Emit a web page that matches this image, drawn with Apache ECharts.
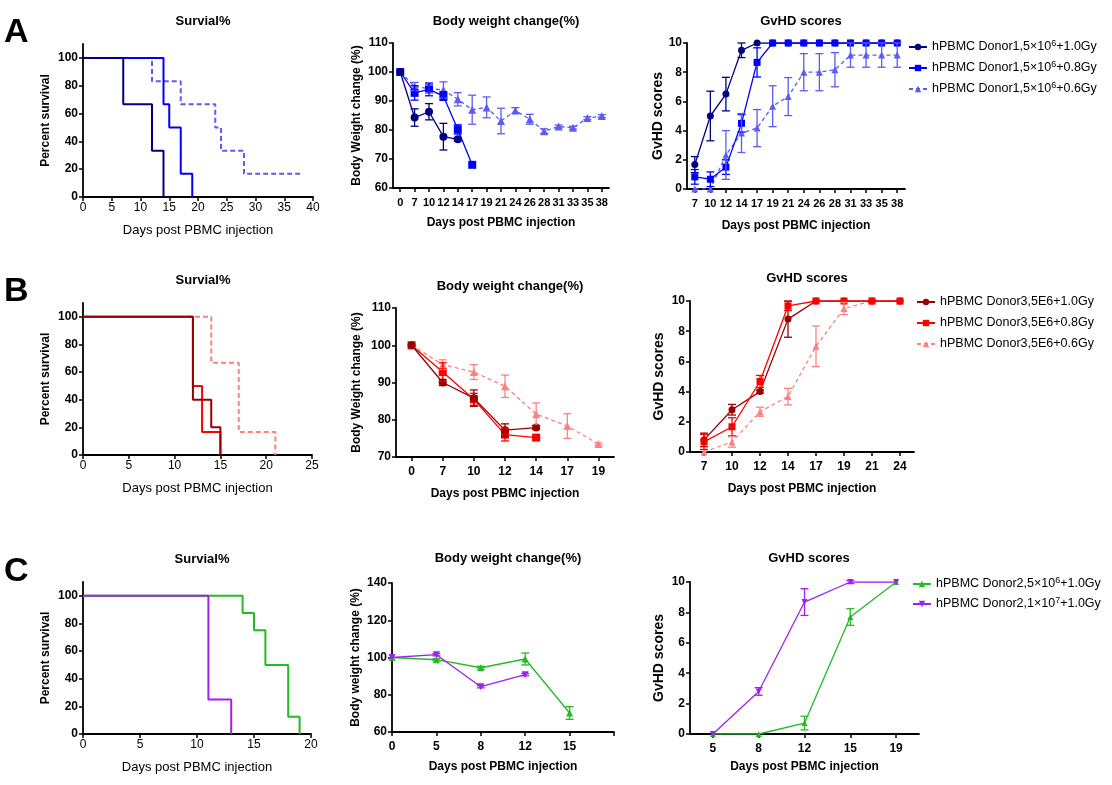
<!DOCTYPE html>
<html>
<head>
<meta charset="utf-8">
<script src="https://cdn.jsdelivr.net/npm/echarts@6.0.0/dist/echarts.min.js"></script>
<style>html,body{margin:0;padding:0;background:#fff}#main{width:1112px;height:785px}</style>
</head>
<body>
<div id="main"></div>
<script type="text/javascript">
    var myChart = echarts.init(document.getElementById('main'));

    // ===== Row A : Donor1 =====
    var namesA = ['hPBMC Donor1,5×10⁶+1.0Gy', 'hPBMC Donor1,5×10⁶+0.8Gy', 'hPBMC Donor1,5×10⁶+0.6Gy'];
    var survA_t1 = [0, 7, 12, 14],                 survA_p1 = [100, 66.7, 33.3, 0];
    var survA_t2 = [0, 14, 15, 17, 19],            survA_p2 = [100, 66.7, 50, 16.7, 0];
    var survA_t3 = [0, 12, 17, 23, 24, 28, 38],    survA_p3 = [100, 83.3, 66.7, 50, 33.3, 16.7, 16.7];

    var bwA_days = ['0', '7', '10', '12', '14', '17', '19', '21', '24', '26', '28', '31', '33', '35', '38'];
    var bwA_1 = [100, 84.3, 86.3, 77.7, 76.8];
    var bwA_1err = [0, 3.0, 2.8, 4.6, 0.6];
    var bwA_2 = [100, 92.8, 94.0, 91.7, 80.2, 68.0];
    var bwA_2err = [0, 2.5, 2.2, 1.5, 1.6, 0];
    var bwA_3 = [100, 95.0, 94.3, 93.8, 90.6, 87.0, 87.8, 83.1, 86.7, 83.7, 79.6, 81.2, 80.8, 84.1, 84.8];
    var bwA_3err = [0, 1.4, 1.4, 2.8, 2.3, 5.0, 3.6, 4.4, 1.0, 1.7, 0.8, 0.5, 0.5, 0.5, 0.5];

    var gvA_days = ['7', '10', '12', '14', '17', '19', '21', '24', '26', '28', '31', '33', '35', '38'];
    var gvA_1 = [1.67, 5.0, 6.5, 9.5, 10, 10, 10, 10, 10, 10, 10, 10, 10, 10];
    var gvA_1err = [0.55, 1.7, 1.15, 0.5, 0, 0, 0, 0, 0, 0, 0, 0, 0, 0];
    var gvA_2 = [0.83, 0.67, 1.5, 4.5, 8.67, 10, 10, 10, 10, 10, 10, 10, 10, 10];
    var gvA_2err = [0.5, 0.5, 0.5, 0.6, 1.0, 0, 0, 0, 0, 0, 0, 0, 0, 0];
    var gvA_3 = [0, 0, 2.33, 3.83, 4.17, 5.67, 6.33, 8.0, 8.0, 8.17, 9.17, 9.17, 9.17, 9.17];
    var gvA_3err = [0, 0, 1.67, 1.33, 1.27, 1.4, 1.3, 1.27, 1.27, 1.17, 0.83, 0.83, 0.83, 0.83];

    // ===== Row B : Donor3 =====
    var namesB = ['hPBMC Donor3,5E6+1.0Gy', 'hPBMC Donor3,5E6+0.8Gy', 'hPBMC Donor3,5E6+0.6Gy'];
    var survB_t1 = [0, 12, 14, 15],   survB_p1 = [100, 40, 20, 0];
    var survB_t2 = [0, 12, 13, 15],   survB_p2 = [100, 50, 16.7, 0];
    var survB_t3 = [0, 14, 17, 21],   survB_p3 = [100, 66.7, 16.7, 0];

    var bwB_days = ['0', '7', '10', '12', '14', '17', '19'];
    var bwB_1 = [100, 90.0, 85.8, 77.2, 77.9];
    var bwB_1err = [0, 0.8, 2.2, 1.7, 0.5];
    var bwB_2 = [100, 92.8, 85.5, 76.0, 75.2];
    var bwB_2err = [0, 2.5, 1.6, 1.7, 0.5];
    var bwB_3 = [100, 94.8, 92.8, 89.0, 81.5, 78.3, 73.5];
    var bwB_3err = [0, 1.3, 2.0, 3.0, 3.0, 3.3, 0.3];

    var gvB_days = ['7', '10', '12', '14', '17', '19', '21', '24'];
    var gvB_1 = [0.8, 2.8, 4.0, 8.8, 10, 10, 10, 10];
    var gvB_1err = [0.45, 0.35, 0.1, 1.2, 0, 0, 0, 0];
    var gvB_2 = [0.67, 1.67, 4.67, 9.67, 10, 10, 10, 10];
    var gvB_2err = [0.5, 0.6, 0.4, 0.3, 0, 0, 0, 0];
    var gvB_3 = [0, 0.67, 2.67, 3.67, 7.0, 9.5, 10, 10];
    var gvB_3err = [0, 0.35, 0.3, 0.55, 1.35, 0.4, 0, 0];

    // ===== Row C : Donor2 =====
    var namesC = ['hPBMC Donor2,5×10⁶+1.0Gy', 'hPBMC Donor2,1×10⁷+1.0Gy'];
    var survC_t1 = [0, 14, 15, 16, 18, 19],  survC_p1 = [100, 87.5, 75, 50, 12.5, 0];
    var survC_t2 = [0, 11, 13],              survC_p2 = [100, 25, 0];

    var bwC_days = ['0', '5', '8', '12', '15', ''];
    var bwC_1 = [100, 98.8, 94.5, 99.2, 70.2];
    var bwC_1err = [0, 0.6, 0.8, 3.2, 3.4];
    var bwC_2 = [100, 101.5, 84.3, 90.8];
    var bwC_2err = [0, 0.6, 0.6, 0.6];

    var gvC_days = ['5', '8', '12', '15', '19'];
    var gvC_1 = [0, 0, 0.72, 7.7, 10];
    var gvC_1err = [0, 0, 0.45, 0.55, 0];
    var gvC_2 = [0, 2.8, 8.68, 10, 10];
    var gvC_2err = [0, 0.25, 0.88, 0.1, 0];

    var colA = ['#000080', '#0000ff', '#5c5cf2'];
    var colB = ['#990000', '#ff0000', '#ff8080'];
    var colC = ['#22bb22', '#a020f0'];

    var FONT = 'Liberation Sans, Arial, sans-serif';

    function stepLine(ax, t, p, color, dashed) {
        var pts = [];
        for (var i = 0; i < t.length; i++) pts.push([t[i], p[i]]);
        return {
            type: 'line', xAxisIndex: ax, yAxisIndex: ax, step: 'end', symbol: 'none', data: pts,
            lineStyle: {color: color, width: 2, type: dashed ? [5, 3] : 'solid'}, z: dashed ? 2 : 3
        };
    }

    function dataLine(ax, name, vals, color, sym, size, dashed, rot) {
        return {
            type: 'line', name: name, xAxisIndex: ax, yAxisIndex: ax, data: vals,
            symbol: sym, symbolSize: size, symbolRotate: rot || 0,
            itemStyle: {color: color},
            lineStyle: {color: color, width: 1.3, type: dashed ? [4, 3] : 'solid'},
            z: dashed ? 2 : 3
        };
    }

    function errBars(ax, vals, errs, color) {
        var d = [];
        for (var i = 0; i < vals.length; i++) {
            if (errs[i] > 0) d.push([i, vals[i], errs[i]]);
        }
        return {
            type: 'custom', xAxisIndex: ax, yAxisIndex: ax, data: d, silent: true, z: 4,
            encode: {x: 0, y: 1},
            renderItem: function (params, api) {
                var x = api.value(0), y = api.value(1), e = api.value(2);
                var hi = api.coord([x, y + e]), lo = api.coord([x, y - e]);
                var s = {stroke: color, lineWidth: 1.3, fill: null};
                return {
                    type: 'group', children: [
                        {type: 'line', shape: {x1: hi[0], y1: hi[1], x2: lo[0], y2: lo[1]}, style: s},
                        {type: 'line', shape: {x1: hi[0] - 4, y1: hi[1], x2: hi[0] + 4, y2: hi[1]}, style: s},
                        {type: 'line', shape: {x1: lo[0] - 4, y1: lo[1], x2: lo[0] + 4, y2: lo[1]}, style: s}
                    ]
                };
            }
        };
    }

    var axLine = {show: true, lineStyle: {color: '#000', width: 1.8}};
    var axTick = {show: true, length: 4, lineStyle: {color: '#000', width: 1.5}};

    function xVal(gi, max) {
        return {
            type: 'value', gridIndex: gi, min: 0, max: max, interval: 5,
            axisLine: axLine, axisTick: axTick, splitLine: {show: false},
            axisLabel: {color: '#000', fontSize: 12, margin: 5},
            name: 'Days post PBMC injection', nameLocation: 'middle', nameGap: 27,
            nameTextStyle: {color: '#000', fontSize: 13}
        };
    }

    function xCat(gi, cats, gap, nameGap, labelSize) {
        return {
            type: 'category', gridIndex: gi, data: cats, boundaryGap: gap,
            axisLine: axLine, axisTick: {show: true, length: 4, alignWithLabel: true, lineStyle: {color: '#000', width: 1.5}},
            axisLabel: {color: '#000', fontSize: labelSize || 12, fontWeight: 'bold', interval: 0, margin: 9},
            name: 'Days post PBMC injection', nameLocation: 'middle', nameGap: nameGap,
            nameTextStyle: {color: '#000', fontSize: 12, fontWeight: 'bold'}
        };
    }

    function yVal(gi, min, max, interval, name, nameSize, nameGap, shown) {
        var ax = {
            type: 'value', gridIndex: gi, min: min, max: max, interval: interval,
            axisLine: axLine, axisTick: axTick, splitLine: {show: false},
            axisLabel: {color: '#000', fontSize: 12, fontWeight: 'bold', margin: 5},
            name: name, nameLocation: 'middle', nameGap: nameGap,
            nameTextStyle: {color: '#000', fontSize: nameSize, fontWeight: 'bold'}
        };
        if (shown) {
            ax.axisLabel.customValues = shown;
            ax.axisTick = {show: true, length: 4, lineStyle: {color: '#000', width: 1.5}, customValues: shown};
        }
        return ax;
    }

    var survTicks = [0, 20, 40, 60, 80, 100];

    var grids = [
        {left: 83, top: 44, width: 230, height: 153},
        {left: 393, top: 43, width: 216, height: 145},
        {left: 687, top: 43, width: 218, height: 146},
        {left: 83, top: 303, width: 229, height: 152},
        {left: 396, top: 308, width: 218, height: 149},
        {left: 690, top: 301, width: 224, height: 151},
        {left: 83, top: 582, width: 228, height: 152},
        {left: 392, top: 583, width: 222, height: 149},
        {left: 690, top: 582, width: 229, height: 152}
    ];

    var xAxes = [
        xVal(0, 40),
        xCat(1, bwA_days, true, 29, 11),
        xCat(2, gvA_days, true, 31, 11),
        xVal(3, 25),
        xCat(4, bwB_days, true, 31),
        xCat(5, gvB_days, true, 31),
        xVal(6, 20),
        xCat(7, bwC_days, false, 29),
        xCat(8, gvC_days, true, 27)
    ];

    var yAxes = [
        yVal(0, 0, 110, 20, 'Percent survival', 12, 31, survTicks),
        yVal(1, 60, 110, 10, 'Body Weight change (%)', 12, 30),
        yVal(2, 0, 10, 2, 'GvHD scores', 14, 22),
        yVal(3, 0, 110, 20, 'Percent survival', 12, 31, survTicks),
        yVal(4, 70, 110, 10, 'Body Weight change (%)', 12, 33),
        yVal(5, 0, 10, 2, 'GvHD scores', 14, 24),
        yVal(6, 0, 110, 20, 'Percent survival', 12, 31, survTicks),
        yVal(7, 60, 140, 20, 'Body weight change (%)', 12, 30),
        yVal(8, 0, 10, 2, 'GvHD scores', 14, 24)
    ];

    var series = [
        // A survival
        stepLine(0, survA_t3, survA_p3, colA[2], true),
        stepLine(0, survA_t2, survA_p2, colA[1], false),
        stepLine(0, survA_t1, survA_p1, colA[0], false),
        // A body weight
        dataLine(1, null, bwA_3, colA[2], 'triangle', 8, true),
        errBars(1, bwA_3, bwA_3err, colA[2]),
        dataLine(1, null, bwA_2, colA[1], 'rect', 8, false),
        errBars(1, bwA_2, bwA_2err, colA[1]),
        dataLine(1, null, bwA_1, colA[0], 'circle', 8, false),
        errBars(1, bwA_1, bwA_1err, colA[0]),
        // A GvHD
        dataLine(2, namesA[0], gvA_1, colA[0], 'circle', 7, false),
        errBars(2, gvA_1, gvA_1err, colA[0]),
        dataLine(2, namesA[1], gvA_2, colA[1], 'rect', 7, false),
        errBars(2, gvA_2, gvA_2err, colA[1]),
        dataLine(2, namesA[2], gvA_3, colA[2], 'triangle', 7, true),
        errBars(2, gvA_3, gvA_3err, colA[2]),
        // B survival
        stepLine(3, survB_t3, survB_p3, colB[2], true),
        stepLine(3, survB_t2, survB_p2, colB[1], false),
        stepLine(3, survB_t1, survB_p1, colB[0], false),
        // B body weight
        dataLine(4, null, bwB_3, colB[2], 'triangle', 8, true),
        errBars(4, bwB_3, bwB_3err, colB[2]),
        dataLine(4, null, bwB_2, colB[1], 'rect', 8, false),
        errBars(4, bwB_2, bwB_2err, colB[1]),
        dataLine(4, null, bwB_1, colB[0], 'circle', 8, false),
        errBars(4, bwB_1, bwB_1err, colB[0]),
        // B GvHD
        dataLine(5, namesB[0], gvB_1, colB[0], 'circle', 7, false),
        errBars(5, gvB_1, gvB_1err, colB[0]),
        dataLine(5, namesB[1], gvB_2, colB[1], 'rect', 7, false),
        errBars(5, gvB_2, gvB_2err, colB[1]),
        dataLine(5, namesB[2], gvB_3, colB[2], 'triangle', 7, true),
        errBars(5, gvB_3, gvB_3err, colB[2]),
        // C survival
        stepLine(6, survC_t1, survC_p1, colC[0], false),
        stepLine(6, survC_t2, survC_p2, colC[1], false),
        // C body weight
        dataLine(7, null, bwC_1, colC[0], 'triangle', 7, false),
        errBars(7, bwC_1, bwC_1err, colC[0]),
        dataLine(7, null, bwC_2, colC[1], 'triangle', 7, false, 180),
        errBars(7, bwC_2, bwC_2err, colC[1]),
        // C GvHD
        dataLine(8, namesC[0], gvC_1, colC[0], 'triangle', 6, false),
        errBars(8, gvC_1, gvC_1err, colC[0]),
        dataLine(8, namesC[1], gvC_2, colC[1], 'triangle', 6, false, 180),
        errBars(8, gvC_2, gvC_2err, colC[1])
    ];

    // superscript digits in legend names drawn as raised rich text
    function supFormat(name) {
        return name.replace('⁶', '{s|6}').replace('⁷', '{s|7}');
    }

    function legendAt(left, top, names, gap) {
        return {
            orient: 'vertical', left: left, top: top, data: names, itemGap: gap,
            itemWidth: 18, itemHeight: 8, selectedMode: false,
            formatter: supFormat,
            textStyle: {
                color: '#000', fontSize: 12.5, fontFamily: FONT, lineHeight: 16,
                rich: {s: {color: '#000', fontSize: 9, lineHeight: 9, verticalAlign: 'top', fontFamily: FONT}}
            }
        };
    }

    function titleAt(text, cx, top) {
        return {text: text, left: cx, top: top, textAlign: 'center',
            textStyle: {color: '#000', fontSize: 13, fontWeight: 'bold', fontFamily: FONT}};
    }

    var option = {
        animation: false,
        backgroundColor: '#fff',
        textStyle: {fontFamily: FONT},
        title: [
            titleAt('Survial%', 198, 10),
            titleAt('Body weight change(%)', 501, 10),
            titleAt('GvHD scores', 796, 10),
            titleAt('Survial%', 198, 269),
            titleAt('Body weight change(%)', 505, 275),
            titleAt('GvHD scores', 802, 267),
            titleAt('Survial%', 197, 548),
            titleAt('Body weight change(%)', 503, 547),
            titleAt('GvHD scores', 804, 547)
        ],
        graphic: [
            {type: 'text', left: 4, top: 16, style: {text: 'A', font: 'bold 34px Liberation Sans', fill: '#000'}},
            {type: 'text', left: 4, top: 275, style: {text: 'B', font: 'bold 34px Liberation Sans', fill: '#000'}},
            {type: 'text', left: 4, top: 555, style: {text: 'C', font: 'bold 34px Liberation Sans', fill: '#000'}}
        ],
        legend: [
            legendAt(903, 34, namesA, 5),
            legendAt(911, 289, namesB, 5),
            legendAt(907, 571, namesC, 4)
        ],
        grid: grids,
        xAxis: xAxes,
        yAxis: yAxes,
        series: series
    };
    myChart.setOption(option);
</script>
</body>
</html>
